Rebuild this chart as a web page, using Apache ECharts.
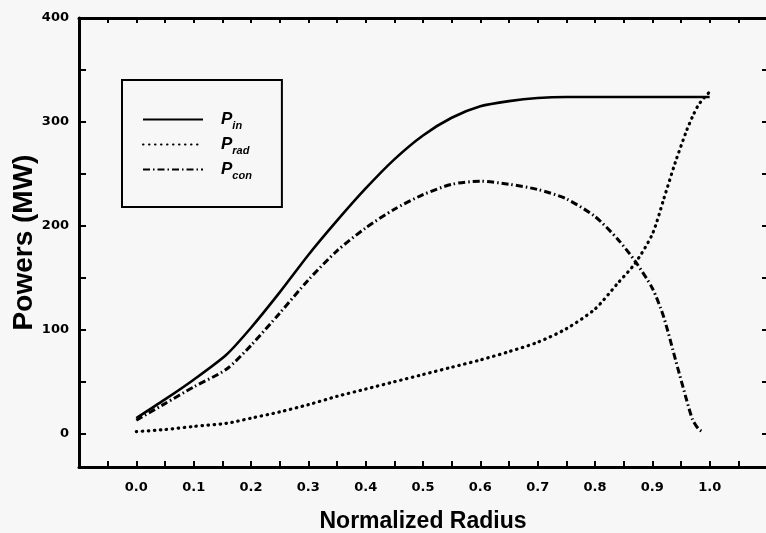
<!DOCTYPE html>
<html><head><meta charset="utf-8">
<script src="https://cdn.jsdelivr.net/npm/echarts@6/dist/echarts.min.js"></script>
<style>html,body{margin:0;padding:0;background:#f7f7f7}#c{width:766px;height:533px}</style>
</head><body><div id="c"></div>
<script>
// Normalized radius sample points
const radius = [0, 0.05, 0.1, 0.157, 0.2, 0.25, 0.3, 0.35, 0.4, 0.45, 0.5, 0.55, 0.6, 0.65, 0.7, 0.75, 0.8, 0.84, 0.87, 0.9, 0.92, 0.94, 0.96, 0.97, 0.98, 0.99, 1.0];
// Powers (MW)
const pIn  = [15, 33, 52, 76, 102, 136, 172, 205, 236, 264, 287, 304, 315, 320, 323, 324, 324, 324, 324, 324, 324, 324, 324, 324, 324, 324, 324];
const pRad = [2, 4, 7, 10, 15, 21, 28, 36, 43, 50, 57, 64, 71, 79, 88, 101, 120, 145, 164, 192, 226, 261, 292, 305, 316, 323, 329];
const pCon = [13, 29, 45, 62, 85, 116, 148, 176, 198, 216, 230, 240, 243, 240, 235, 226, 209, 187, 166, 140, 112, 72, 32, 14, 5, 1, null];
const seriesNames = ['Pin', 'Prad', 'Pcon'];
const seriesSubs = ['in', 'rad', 'con'];
const xLabelValues = [0, 0.1, 0.2, 0.3, 0.4, 0.5, 0.6, 0.7, 0.8, 0.9, 1.0];
const yLabelValues = [0, 100, 200, 300, 400];
const yTickValues = [0, 50, 100, 150, 200, 250, 300, 350, 400];

const pairs = vals => radius.map((r, i) => [r, vals[i]]).filter(p => p[1] !== null);

const chart = echarts.init(document.getElementById('c'), null, {renderer: 'canvas'});
const labelFont = {fontFamily: 'DejaVu Sans', fontWeight: 'bold', fontSize: 13, color: '#000'};
const axisLine = {show: true, onZero: false, lineStyle: {color: '#000', width: 3}};
const xLabelFmt = v => {
  const k = Math.round(v * 100);
  return (k % 10 === 0 && xLabelValues.some(x => Math.round(x * 100) === k)) ? (k / 100).toFixed(1) : '';
};
const subIdx = {};
seriesNames.forEach((n, i) => subIdx[n] = seriesSubs[i]);

chart.setOption({
  backgroundColor: '#f7f7f7',
  animation: false,
  grid: {left: 79, top: 18, width: 688, height: 449, containLabel: false, outerBoundsMode: 'none'},
  xAxis: [{
    type: 'value', position: 'bottom', min: -0.1, max: 1.1, interval: 0.05,
    axisLine: axisLine,
    axisTick: {show: true, inside: true, length: 6, lineStyle: {color: '#000', width: 2}},
    axisLabel: Object.assign({margin: 14, formatter: xLabelFmt, showMinLabel: true, showMaxLabel: true}, labelFont),
    splitLine: {show: false},
    name: 'Normalized Radius', nameLocation: 'middle', nameGap: 43, nameMoveOverlap: false,
    nameTextStyle: {fontFamily: 'Liberation Sans', fontWeight: 'bold', fontSize: 23, color: '#000'}
  }, {
    type: 'value', position: 'top', min: -0.1, max: 1.1, interval: 0.05,
    axisLine: axisLine,
    axisTick: {show: true, inside: true, length: 5, lineStyle: {color: '#000', width: 2}},
    axisLabel: {show: false}, splitLine: {show: false}
  }],
  yAxis: [{
    type: 'value', position: 'left', min: -32, max: 400,
    axisLine: axisLine,
    axisTick: {show: true, inside: true, length: 7, customValues: yTickValues, lineStyle: {color: '#000', width: 2}},
    axisLabel: Object.assign({margin: 10, customValues: yLabelValues}, labelFont),
    splitLine: {show: false},
    name: 'Powers (MW)', nameLocation: 'middle', nameGap: 41, nameMoveOverlap: false,
    nameTextStyle: {fontFamily: 'Liberation Sans', fontWeight: 'bold', fontSize: 28, color: '#000'}
  }, {
    type: 'value', position: 'right', min: -32, max: 400,
    axisLine: axisLine,
    axisTick: {show: true, inside: true, length: 5, customValues: yTickValues, lineStyle: {color: '#000', width: 2}},
    axisLabel: {show: false}, splitLine: {show: false}
  }],
  legend: {
    orient: 'vertical', left: 122, top: 80,
    itemWidth: 60, itemHeight: 14, itemGap: 2,
    padding: [28, 30, 26, 20],
    borderColor: '#000', borderWidth: 2,
    data: seriesNames,
    itemStyle: {opacity: 0},
    formatter: n => '{p|P}{s|' + subIdx[n] + '}',
    textStyle: {
      rich: {
        p: {fontFamily: 'Liberation Sans', fontSize: 17, fontStyle: 'italic', fontWeight: 'bold', lineHeight: 24, padding: [0, 0, 0, 13], color: '#000'},
        s: {fontFamily: 'Liberation Sans', fontSize: 11, fontStyle: 'italic', fontWeight: 'bold', lineHeight: 12, padding: [12, 0, 0, 0], color: '#000'}
      }
    }
  },
  series: [{
    name: 'Pin', type: 'line', data: pairs(pIn), symbol: 'none', smooth: 0.25,
    lineStyle: {color: '#000', width: 2.6, type: 'solid'}, itemStyle: {color: '#000'}
  }, {
    name: 'Prad', type: 'line', data: pairs(pRad), symbol: 'none', smooth: 0.25,
    lineStyle: {color: '#000', width: 3.2, type: [0.5, 5.5], cap: 'round'}, itemStyle: {color: '#000'}
  }, {
    name: 'Pcon', type: 'line', data: pairs(pCon), symbol: 'none', smooth: 0.25,
    lineStyle: {color: '#000', width: 3, type: [7, 3, 1.5, 3]}, itemStyle: {color: '#000'}
  }]
});
</script></body></html>
